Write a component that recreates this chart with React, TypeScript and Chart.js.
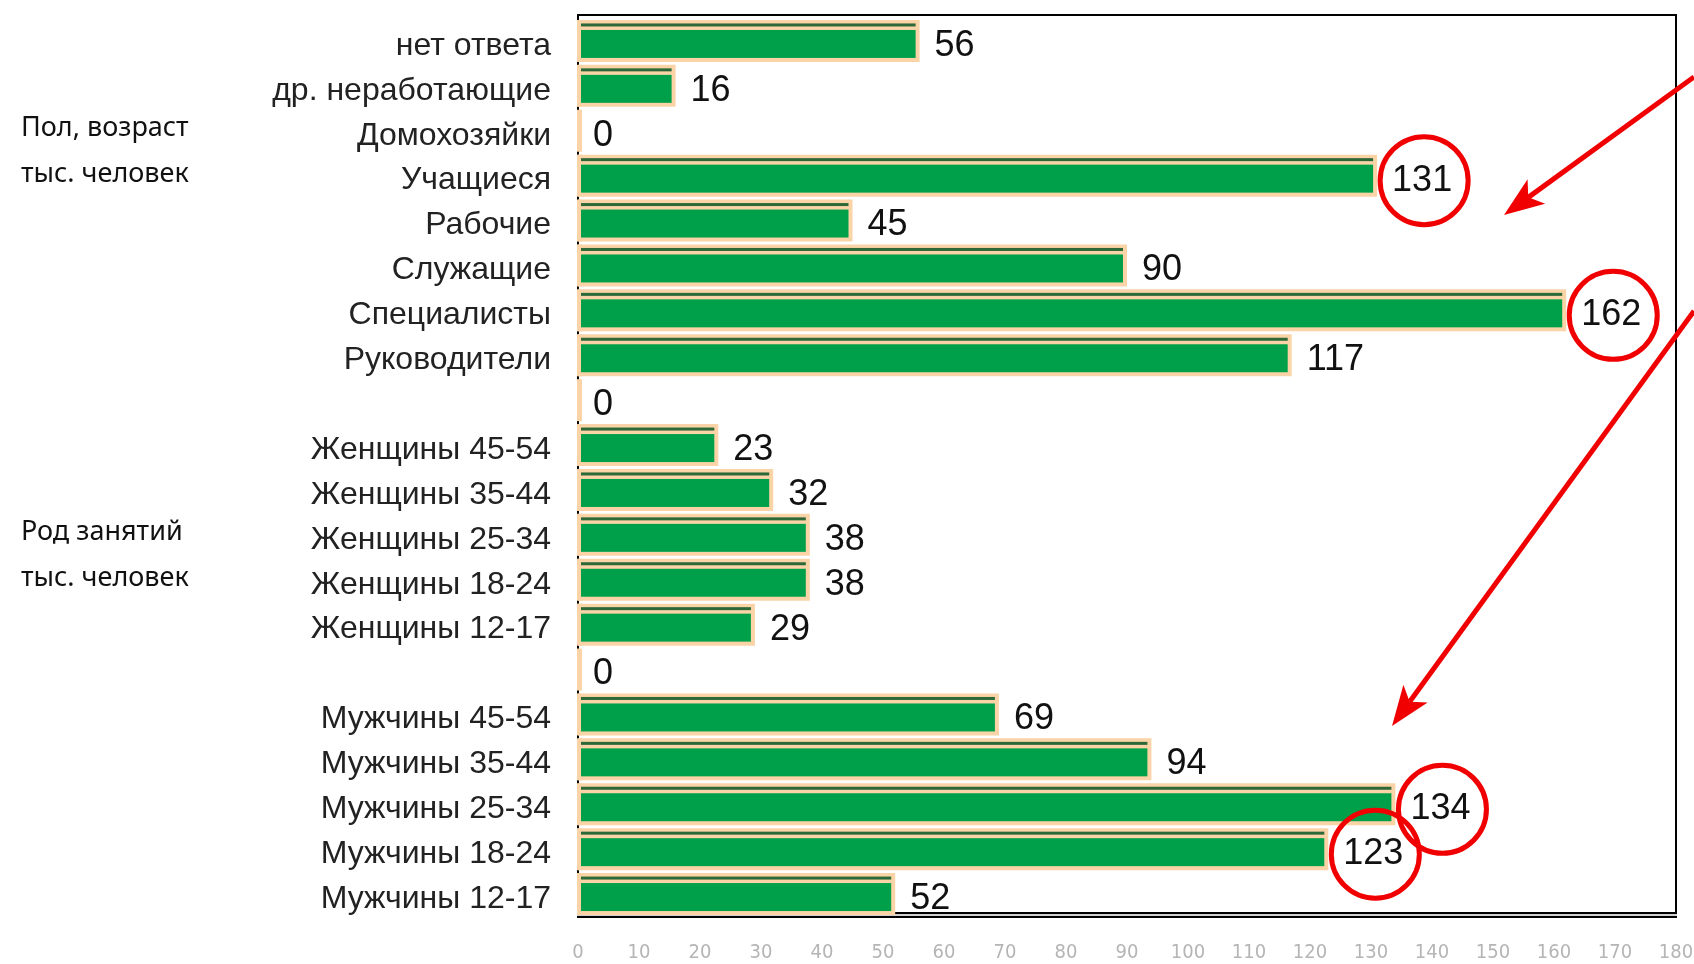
import React, { useEffect, useRef } from "react";
import { Chart, registerables } from "chart.js";

Chart.register(...registerables);

const categories: string[] = [
  "нет ответа",
  "др. неработающие",
  "Домохозяйки",
  "Учащиеся",
  "Рабочие",
  "Служащие",
  "Специалисты",
  "Руководители",
  "",
  "Женщины 45-54",
  "Женщины 35-44",
  "Женщины 25-34",
  "Женщины 18-24",
  "Женщины 12-17",
  "",
  "Мужчины 45-54",
  "Мужчины 35-44",
  "Мужчины 25-34",
  "Мужчины 18-24",
  "Мужчины 12-17",
];

const values: number[] = [56, 16, 0, 131, 45, 90, 162, 117, 0, 23, 32, 38, 38, 29, 0, 69, 94, 134, 123, 52];

const circledIndices: number[] = [3, 6, 17, 18];

const xTickValues: number[] = [0, 10, 20, 30, 40, 50, 60, 70, 80, 90, 100, 110, 120, 130, 140, 150, 160, 170, 180];

const sideNotes: string[] = ["Пол, возраст", "тыс. человек", "Род занятий", "тыс. человек"];

const W = 1694;
const H = 964;
const PEACH = "rgb(250,212,166)";
const GREEN = "rgb(0,160,74)";
const DARK = "rgb(44,104,56)";
const RED = "rgb(240,0,0)";

function drawArrow(ctx: CanvasRenderingContext2D, x1: number, y1: number, x2: number, y2: number) {
  const dx = x2 - x1;
  const dy = y2 - y1;
  const len = Math.hypot(dx, dy);
  const ux = dx / len;
  const uy = dy / len;
  const headLen = 40;
  const headW = 15;
  const notch = 30;
  ctx.save();
  ctx.strokeStyle = RED;
  ctx.fillStyle = RED;
  ctx.lineWidth = 5;
  ctx.beginPath();
  ctx.moveTo(x1, y1);
  ctx.lineTo(x2 - ux * notch, y2 - uy * notch);
  ctx.stroke();
  const bx = x2 - ux * headLen;
  const by = y2 - uy * headLen;
  ctx.beginPath();
  ctx.moveTo(x2, y2);
  ctx.lineTo(bx - uy * headW, by + ux * headW);
  ctx.lineTo(x2 - ux * notch, y2 - uy * notch);
  ctx.lineTo(bx + uy * headW, by - ux * headW);
  ctx.closePath();
  ctx.fill();
  ctx.restore();
}

const decorPlugin = {
  id: "decor",
  beforeDatasetsDraw(chart: any) {
    const ctx: CanvasRenderingContext2D = chart.ctx;
    const a = chart.chartArea;
    ctx.save();
    ctx.fillStyle = "#000";
    const top = a.top - 4.5;
    ctx.fillRect(a.left - 1, top, a.right - a.left + 2, 2);
    ctx.fillRect(a.left - 1, top, 2, a.bottom - top);
    ctx.fillRect(a.right - 1, top, 2, a.bottom - top + 1);
    ctx.fillRect(a.left - 1, a.bottom - 4.5, a.right - a.left + 2, 2);
    ctx.fillStyle = "#d0d0d0";
    ctx.fillRect(a.left - 1, a.bottom - 2.5, a.right - a.left + 2, 2);
    ctx.fillStyle = "#000";
    ctx.fillRect(a.left - 1, a.bottom - 0.5, a.right - a.left + 2, 2);
    ctx.restore();
  },
  afterDatasetsDraw(chart: any) {
    const ctx: CanvasRenderingContext2D = chart.ctx;
    const meta = chart.getDatasetMeta(0);
    ctx.save();
    meta.data.forEach((bar: any, i: number) => {
      const p = bar.getProps(["x", "y", "base", "height"], true);
      const top = p.y - p.height / 2;
      ctx.fillStyle = PEACH;
      ctx.fillRect(p.base - 1, top, 5, p.height);
      if (values[i] > 0) {
        const l = p.base + 3;
        const r = p.x - 4;
        ctx.fillStyle = DARK;
        ctx.fillRect(l, top + 3.5, r - l, 3);
        ctx.fillStyle = GREEN;
        ctx.fillRect(l, top + 10, r - l, p.height - 14);
      }
    });
    ctx.font = '36px "Liberation Sans", Arial, sans-serif';
    ctx.textBaseline = "middle";
    ctx.textAlign = "left";
    meta.data.forEach((bar: any, i: number) => {
      const p = bar.getProps(["x", "y"], true);
      const txt = String(values[i]);
      const tx = p.x + 15;
      const ty = p.y + 5;
      ctx.fillStyle = "#111";
      ctx.fillText(txt, tx, ty);
      if (circledIndices.includes(i)) {
        const w = ctx.measureText(txt).width;
        ctx.strokeStyle = RED;
        ctx.lineWidth = 5;
        ctx.beginPath();
        ctx.arc(tx + w / 2 + 2, ty, 44, 0, Math.PI * 2);
        ctx.stroke();
      }
    });
    ctx.restore();
  },
  afterDraw(chart: any) {
    const ctx: CanvasRenderingContext2D = chart.ctx;
    drawArrow(ctx, W, 77, 1504, 215);
    drawArrow(ctx, W, 311, 1392, 726);
    ctx.save();
    ctx.fillStyle = "#111";
    ctx.font = '27px "Noto Sans", sans-serif';
    ctx.textAlign = "left";
    ctx.textBaseline = "middle";
    const ys = [128, 174, 532, 578];
    sideNotes.forEach((t, i) => ctx.fillText(t, 21, ys[i]));
    ctx.restore();
  },
};

export default function App() {
  const ref = useRef<HTMLCanvasElement | null>(null);
  useEffect(() => {
    document.body.style.margin = "0";
    const canvas = ref.current!;
    const chart = new Chart(canvas, {
      type: "bar",
      data: {
        labels: categories,
        datasets: [
          {
            data: values,
            backgroundColor: PEACH,
            borderWidth: 0,
            barPercentage: 0.935,
            categoryPercentage: 1,
          },
        ],
      },
      options: {
        indexAxis: "y",
        animation: false,
        responsive: false,
        devicePixelRatio: 1,
        layout: { padding: { top: 18.5, right: 18, left: 0, bottom: 0 } },
        plugins: { legend: { display: false }, tooltip: { enabled: false } },
        scales: {
          x: {
            type: "linear",
            position: "bottom",
            min: 0,
            max: 180,
            afterBuildTicks: (axis: any) => {
              axis.ticks = xTickValues.map((v) => ({ value: v }));
            },
            afterFit: (axis: any) => {
              axis.height = 47.5;
              axis.paddingLeft = 0;
              axis.paddingRight = 0;
            },
            grid: { display: false, drawTicks: false },
            border: { display: false },
            ticks: {
              autoSkip: false,
              maxRotation: 0,
              padding: 24,
              color: "#b5b5b5",
              font: { family: '"Liberation Sans Narrow", "DejaVu Sans Condensed", sans-serif', size: 20 },
            },
          },
          y: {
            type: "category",
            afterFit: (axis: any) => {
              axis.width = 578;
              axis.paddingTop = 0;
              axis.paddingBottom = 0;
            },
            grid: { display: false, drawTicks: false },
            border: { display: false },
            ticks: {
              autoSkip: false,
              padding: 27,
              labelOffset: 5,
              color: "#222",
              font: { family: '"Liberation Sans", Arial, sans-serif', size: 32 },
            },
          },
        },
      },
      plugins: [decorPlugin],
    } as any);
    return () => chart.destroy();
  }, []);
  return <canvas ref={ref} width={W} height={H} style={{ display: "block", width: W, height: H }} />;
}
